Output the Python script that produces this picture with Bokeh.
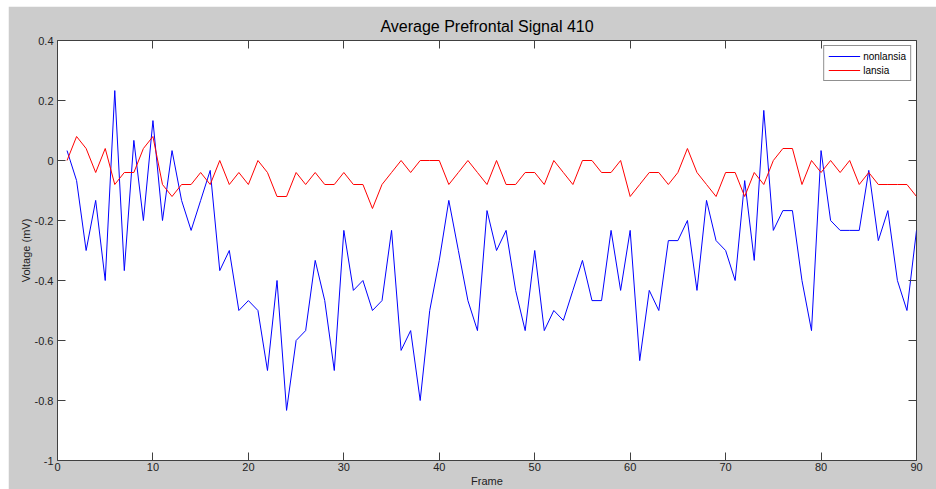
from bokeh.plotting import figure
from bokeh.models import Range1d, LinearAxis, FixedTicker, Spacer, CustomLabelingPolicy
from bokeh.layouts import column, row
from bokeh.embed import file_html
from bokeh.resources import INLINE

frames = list(range(1, 91))
nonlansia = [
    0.033, -0.067, -0.3, -0.133, -0.4, 0.233, -0.367, 0.067, -0.2, 0.133,
    -0.2, 0.033, -0.133, -0.233, -0.133, -0.033, -0.367, -0.3, -0.5, -0.467,
    -0.5, -0.7, -0.4, -0.833, -0.6, -0.567, -0.333, -0.467, -0.7, -0.233,
    -0.433, -0.4, -0.5, -0.467, -0.233, -0.633, -0.567, -0.8, -0.5, -0.333,
    -0.133, -0.3, -0.467, -0.567, -0.167, -0.3, -0.233, -0.433, -0.567, -0.3,
    -0.567, -0.5, -0.533, -0.433, -0.333, -0.467, -0.467, -0.233, -0.433, -0.233,
    -0.667, -0.433, -0.5, -0.267, -0.267, -0.2, -0.433, -0.133, -0.267, -0.3,
    -0.4, -0.067, -0.333, 0.167, -0.233, -0.167, -0.167, -0.4, -0.567, 0.033,
    -0.2, -0.233, -0.233, -0.233, -0.033, -0.267, -0.167, -0.4, -0.5, -0.233,
]
lansia = [
    0.0, 0.08, 0.04, -0.04, 0.04, -0.08, -0.04, -0.04, 0.04, 0.08,
    -0.08, -0.12, -0.08, -0.08, -0.04, -0.08, 0.0, -0.08, -0.04, -0.08,
    0.0, -0.04, -0.12, -0.12, -0.04, -0.08, -0.04, -0.08, -0.08, -0.04,
    -0.08, -0.08, -0.16, -0.08, -0.04, 0.0, -0.04, 0.0, 0.0, 0.0,
    -0.08, -0.04, 0.0, -0.04, -0.08, 0.0, -0.08, -0.08, -0.04, -0.04,
    -0.08, 0.0, -0.04, -0.08, 0.0, 0.0, -0.04, -0.04, 0.0, -0.12,
    -0.08, -0.04, -0.04, -0.08, -0.04, 0.04, -0.04, -0.08, -0.12, -0.04,
    -0.04, -0.12, -0.04, -0.08, 0.0, 0.04, 0.04, -0.08, 0.0, -0.04,
    0.0, -0.04, 0.0, -0.08, -0.04, -0.08, -0.08, -0.08, -0.08, -0.12,
]
x_ticks = [0, 10, 20, 30, 40, 50, 60, 70, 80, 90]
y_ticks = [0.4, 0.2, 0, -0.2, -0.4, -0.6, -0.8, -1]
y_tick_labels = ["0.4", "0.2", "0", "-0.2", "-0.4", "-0.6", "-0.8", "-1"]

FONT = "Liberation Sans"
AX = "#404040"
GRAY = "#cccccc"

p = figure(width=928, height=483, output_backend="svg", toolbar_location=None,
           x_range=Range1d(0, 90), y_range=Range1d(-1, 0.4),
           min_border_left=49, min_border_right=20, min_border_top=34,
           min_border_bottom=28, title="Average Prefrontal Signal 410")
p.border_fill_color = GRAY
p.background_fill_color = "white"
p.outline_line_color = AX
p.outline_line_width = 1
p.grid.visible = False

p.title.align = "center"
p.title.text_font = FONT
p.title.text_font_size = "16px"
p.title.text_font_style = "normal"
p.title.text_color = "#000000"
p.title.standoff = 12

def style_axis(ax, show_labels=True):
    ax.major_tick_in = 8
    ax.major_tick_out = 0
    ax.minor_tick_line_color = None
    ax.axis_line_color = None
    ax.major_tick_line_color = AX
    ax.major_label_text_font = FONT
    ax.major_label_text_font_size = "11px" if show_labels else "0px"
    ax.major_label_text_color = "#222222"
    ax.axis_label_text_font = FONT
    ax.axis_label_text_font_size = "11px"
    ax.axis_label_text_font_style = "normal"
    ax.axis_label_text_color = "#222222"

xa = p.xaxis[0]
xa.ticker = FixedTicker(ticks=x_ticks)
xa.axis_label = "Frame"
style_axis(xa)
xa.major_label_standoff = 2
xa.axis_label_standoff = 1

ya = p.yaxis[0]
ya.ticker = FixedTicker(ticks=y_ticks)
ya.major_label_overrides = {t: s for t, s in zip(y_ticks, y_tick_labels)}
ya.axis_label = "Voltage (mV)"
style_axis(ya)
ya.major_label_standoff = 4
ya.axis_label_standoff = 0

no_labels = "return new Set()"

top = LinearAxis(ticker=FixedTicker(ticks=x_ticks))
style_axis(top, False)
top.major_label_standoff = 0
top.major_label_policy = CustomLabelingPolicy(code=no_labels)
p.add_layout(top, "above")

right = LinearAxis(ticker=FixedTicker(ticks=y_ticks))
style_axis(right, False)
right.major_label_standoff = 0
right.major_label_policy = CustomLabelingPolicy(code=no_labels)
p.add_layout(right, "right")

p.line(frames, nonlansia, line_color="#0000ff", line_width=1, legend_label="nonlansia")
p.line(frames, lansia, line_color="#ff0000", line_width=1, legend_label="lansia")

lg = p.legend[0]
lg.location = "top_right"
lg.margin = 5
lg.padding = 4
lg.spacing = 2
lg.border_line_color = "#222222"
lg.border_line_width = 1
lg.background_fill_color = "white"
lg.background_fill_alpha = 1
lg.label_text_font = FONT
lg.label_text_font_size = "10px"
lg.label_text_color = "#000000"
lg.glyph_width = 32
lg.glyph_height = 12
lg.label_height = 12
lg.label_standoff = 3

layout = column(Spacer(height=6), row(Spacer(width=8), p))
open("out.html", "w").write(file_html(layout, INLINE))
